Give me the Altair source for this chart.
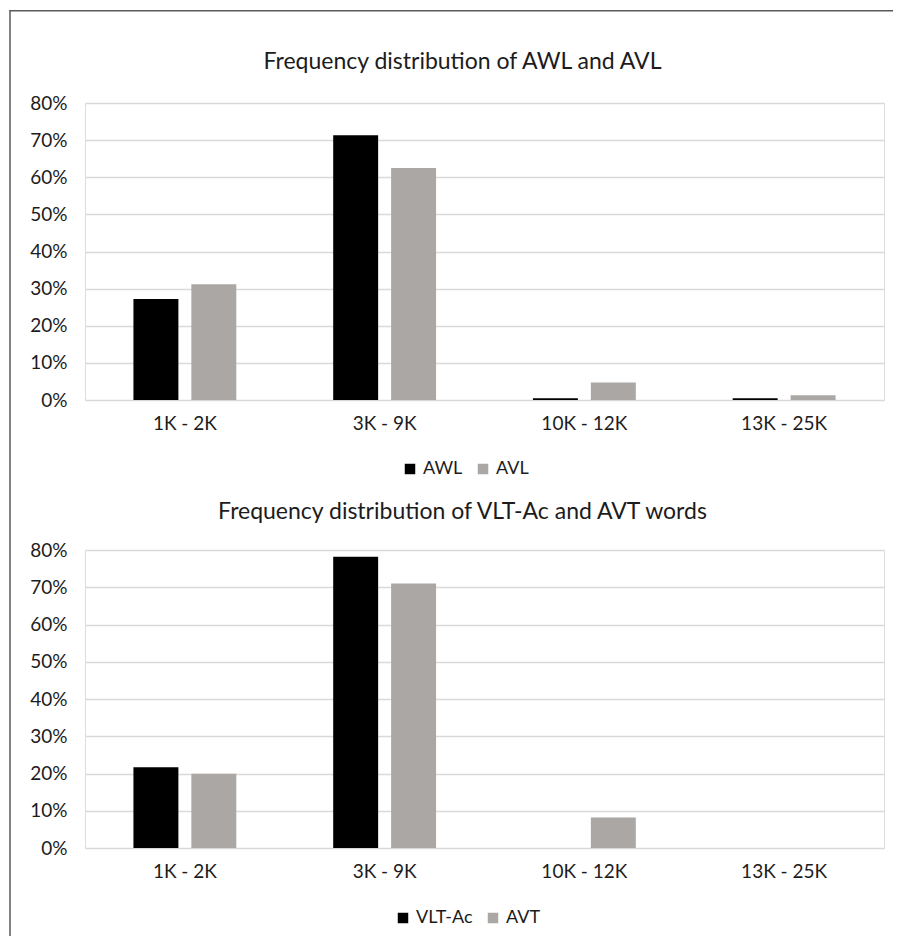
import altair as alt
import pandas as pd

categories = ["1K - 2K", "3K - 9K", "10K - 12K", "13K - 25K"]

top_title = "Frequency distribution of AWL and AVL"
top_series = ["AWL", "AVL"]
awl = [27.2, 71.3, 0.5, 0.5]
avl = [31.2, 62.5, 4.7, 1.3]

bottom_title = "Frequency distribution of VLT-Ac and AVT words"
bottom_series = ["VLT-Ac", "AVT"]
vlt_ac = [21.7, 78.2, 0.0, 0.0]
avt = [19.9, 71.0, 8.2, 0.0]

y_ticks = [0, 0.1, 0.2, 0.3, 0.4, 0.5, 0.6, 0.7, 0.8]
colors = ["#000000", "#aaa7a5"]

FONT = "Lato"
TXT = "#1c1c1c"
W = 799


def long(series_names, a, b):
    rows = []
    for name, vals in zip(series_names, [a, b]):
        for c, v in zip(categories, vals):
            rows.append({"cat": c, "series": name, "val": v / 100})
    return pd.DataFrame(rows)


def panel(title, series_names, a, b, h, title_y, legend_x, legend_y, border):
    df = long(series_names, a, b)
    bars = alt.Chart(df).mark_bar().encode(
        x=alt.X("cat:N", sort=categories,
                scale=alt.Scale(paddingInner=0.485, paddingOuter=0.2425),
                axis=alt.Axis(title=None, labelAngle=0, domain=False, ticks=False,
                              labelPadding=14, labelFontSize=19, labelColor=TXT,
                              labelFont=FONT, grid=False)),
        xOffset=alt.XOffset("series:N", scale=alt.Scale(domain=series_names, paddingInner=0.224, paddingOuter=0)),
        y=alt.Y("val:Q", scale=alt.Scale(domain=[0, 0.8]),
                axis=alt.Axis(title=None, format=".0%", values=y_ticks, domain=False, ticks=False,
                              labelPadding=18, labelFontSize=19, labelColor=TXT, labelFont=FONT,
                              gridColor="#d9d9d9", gridWidth=1.3)),
        color=alt.Color("series:N", scale=alt.Scale(domain=series_names, range=colors),
                        legend=alt.Legend(orient="none", legendX=legend_x, legendY=legend_y,
                                          direction="horizontal", title=None, symbolType="square",
                                          symbolSize=110, symbolStrokeWidth=0, labelFontSize=18,
                                          labelFont=FONT, labelColor=TXT, columnPadding=11,
                                          labelOffset=4, padding=0)),
    )
    one = pd.DataFrame({"t": [title]})
    ttl = alt.Chart(one).mark_text(font=FONT, fontSize=23, color=TXT, baseline="middle", align="center").encode(
        text="t:N", x=alt.value(377.5), y=alt.value(title_y))
    layers = [bars, ttl]
    if border:
        left = alt.Chart(one).mark_rule(color="#5a5a5a", strokeWidth=1.5).encode(
            x=alt.value(-75), y=alt.value(-93), y2=alt.value(833))
        tl = alt.Chart(one).mark_rule(color="#5a5a5a", strokeWidth=1.5).encode(
            x=alt.value(-75.5), x2=alt.value(808), y=alt.value(-92.25))
        layers += [left, tl]
    return alt.layer(*layers).properties(width=W, height=h)


top = panel(top_title, top_series, awl, avl, 297, -41, 316, 357, True)
bottom = panel(bottom_title, bottom_series, vlt_ac, avt, 298, -38, 309, 359, False)

chart = alt.vconcat(top, bottom, spacing=150, bounds="flush").resolve_scale(
    color="independent", xOffset="independent").resolve_legend(
    color="independent").properties(padding=0).configure_view(stroke=None).configure(font=FONT)

chart.save("out.html", embed_options={"renderer": "svg", "actions": False})
